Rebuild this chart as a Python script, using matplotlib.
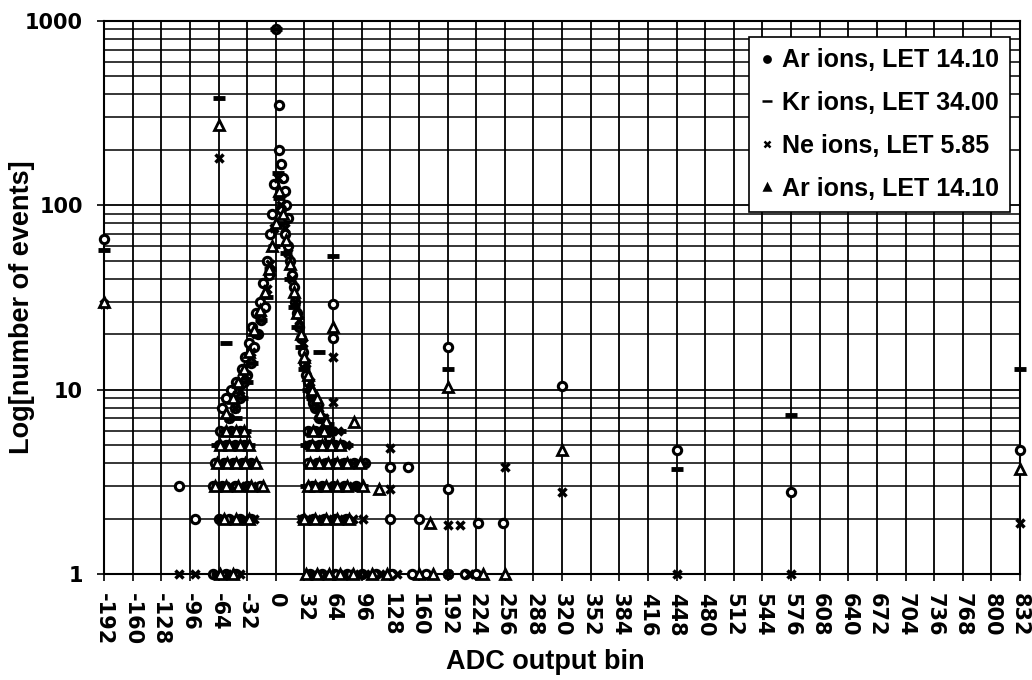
import matplotlib
matplotlib.use("Agg")
import matplotlib.pyplot as plt
from matplotlib.ticker import FixedLocator, NullFormatter

plt.rcParams['font.family'] = ['Liberation Sans', 'DejaVu Sans']
plt.rcParams['font.weight'] = 'bold'

# ---------------- data ----------------
x_ticks = list(range(-192, 833, 32))
y_ticks = [1, 10, 100, 1000]
legend_labels = ["Ar ions, LET 14.10", "Kr ions, LET 34.00",
                 "Ne ions, LET 5.85", "Ar ions, LET 14.10"]

# Series 1: Ar ions (circles)
ar1_x = [-60, -56, -52, -50, -46, -44, -40, -38, -36, -34, -32, -30, -28, -26, -24, -22,
         -20, -18, -16, -14, -12, -10, -8, -6, -4, -2,
         0, 4, 4, 6, 8, 10, 12, 14,
         6, 10, 14, 16, 18, 20, 22, 24, 26, 28, 30, 32, 34, 36, 38, 40, 42, 44, 48, 52, 56, 60,
         -62, -50, -40, 36, 44, 52, 60,
         -64, -56, -46, -36, 38, 48, 58, 66, 74,
         -68, -58, -48, -38, -28, 36, 46, 56, 66, 76, 88, 100,
         -70, -60, -46, -32, -18, 40, 52, 64, 76, 90,
         -64, -52, -40, -28, 30, 42, 54, 66, 78,
         -70, -56, -44, 38, 52, 66, 80, 96, 112, 130,
         -108, -90, 128, 148, 192, 128, 160, 226, 254, 152, 168, 192, 212, 224,
         -192, 64, 64, 192, 320, 448, 576, 832]
ar1_y = [8, 9, 7, 10, 8, 11, 9, 13, 11, 15, 12, 18, 14, 22, 17, 26,
         20, 30, 24, 38, 28, 50, 42, 70, 90, 130,
         900, 350, 200, 168, 140, 120, 100, 85,
         95, 70, 60, 50, 42, 36, 30, 26, 22, 19, 16, 14, 12, 11, 10, 9, 8.5, 8, 7, 7, 6, 5.5,
         6, 6, 6, 6, 6, 6, 6,
         5, 5, 5, 5, 5, 5, 5, 5, 5,
         4, 4, 4, 4, 4, 4, 4, 4, 4, 4, 4, 4,
         3, 3, 3, 3, 3, 3, 3, 3, 3, 3,
         2, 2, 2, 2, 2, 2, 2, 2, 2,
         1, 1, 1, 1, 1, 1, 1, 1, 1, 1,
         3, 2, 3.8, 3.8, 2.9, 2, 2, 1.9, 1.9, 1, 1, 1, 1, 1,
         66, 29, 19, 17, 10.5, 4.7, 2.8, 4.7]

# Series 2: Kr ions (dashes)
kr_x = [-44, -38, -32, -26, -22, -16, -10, -6, -2, 0, 2, 4, 8, 12, 16, 20, 24, 28, 32, 36,
        40, 46, 52, 58,
        -58, -46, -34, 40, 48, 56, 64, 72,
        -66, -52, -42, -30, 34, 44, 54, 64, 80,
        -62, -50, -34, -24, 42, 52, 62, 72, 84, 96,
        -66, -54, -38, -26, 34, 46, 58, 70, 84, 96,
        -60, -46, -34, 34, 46, 58, 70,
        -66, -50, 42, 58, 74, 90, 104, 120,
        -192, -64, -56, 48, 64, 192, 448, 576, 832]
kr_y = [7, 9, 11, 14, 20, 24, 32, 45, 60, 900, 150, 110, 80, 55, 40, 28, 22, 17, 13, 10,
        9, 8, 7, 6.5,
        6, 6, 6, 6, 6, 6, 6, 6,
        5, 5, 5, 5, 5, 5, 5, 5, 5,
        4, 4, 4, 4, 4, 4, 4, 4, 4, 4,
        3, 3, 3, 3, 3, 3, 3, 3, 3, 3,
        2, 2, 2, 2, 2, 2, 2,
        1, 1, 1, 1, 1, 1, 1, 1,
        57, 380, 18, 16, 53, 13, 3.7, 7.3, 13]

# Series 3: Ne ions (crosses)
ne_x = [-52, -46, -40, -34, -28, -22, -16, -10, -6, -2, 2, 6, 10, 14, 18, 22, 26, 30, 34,
        38, 42, 48, 54,
        -54, -42, 38, 50, 62, 70,
        -60, -48, -38, 36, 46, 56, 68, 78,
        -64, -52, -42, -32, 40, 50, 60, 70, 80, 92,
        -62, -50, -40, -26, 38, 48, 60, 72, 86, 128,
        -62, -48, -36, -24, 28, 40, 52, 64, 76, 86, 97, 192, 206,
        -108, -90, -66, -54, -40, 36, 48, 62, 76, 88, 100, 116, 136, 192, 216, 448, 576,
        -192, -64, 64, 64, 128, 256, 320, 832]
ne_y = [7, 8, 10, 12, 16, 20, 26, 35, 48, 75, 140, 100, 75, 55, 40, 30, 24, 18, 14,
        11, 9, 8, 7,
        6, 6, 6, 6, 6, 6,
        5, 5, 5, 5, 5, 5, 5, 5,
        4, 4, 4, 4, 4, 4, 4, 4, 4, 4,
        3, 3, 3, 3, 3, 3, 3, 3, 3, 2.9,
        2, 2, 2, 2, 2, 2, 2, 2, 2, 2, 2, 1.85, 1.85,
        1, 1, 1, 1, 1, 1, 1, 1, 1, 1, 1, 1, 1, 1, 1, 1, 1,
        29, 180, 15, 8.6, 4.8, 3.8, 2.8, 1.9]

# Series 4: Ar ions (triangles)
ar2_x = [-56, -48, -42, -36, -30, -24, -18, -12, -8, -4, 0, 4, 8, 12, 16, 20, 24, 28, 32,
         36, 40, 46, 50, 56,
         -56, -44, -36, 42, 54,
         -62, -52, -40, -30, 40, 52, 62, 72,
         -66, -54, -44, -34, -22, 38, 48, 58, 68, 80, 94,
         -68, -56, -42, -28, -14, 36, 44, 56, 68, 80, 98, 115,
         -58, -44, -30, 32, 44, 56, 68, 82, 172,
         -62, -48, 34, 46, 60, 72, 86, 108, 124, 160, 176, 232, 256,
         -192, -64, 64, 88, 192, 320, 832]
ar2_y = [7.5, 9, 11, 13, 16, 21, 27, 34, 45, 60, 80, 120, 90, 65, 48, 34, 26, 20, 15,
         12, 10, 9, 7.5, 6.8,
         6, 6, 6, 6, 6,
         5, 5, 5, 5, 5, 5, 5, 5,
         4, 4, 4, 4, 4, 4, 4, 4, 4, 4, 4,
         3, 3, 3, 3, 3, 3, 3, 3, 3, 3, 3, 2.9,
         2, 2, 2, 2, 2, 2, 2, 2, 1.9,
         1, 1, 1, 1, 1, 1, 1, 1, 1, 1, 1, 1, 1,
         30, 273, 22, 6.7, 10.4, 4.7, 3.7]

# ---------------- plot ----------------
fig = plt.figure(figsize=(10.32, 6.8), dpi=100)
ax = fig.add_axes([104/1032, 1 - 574/680, (1020-104)/1032, (574-21)/680])

ax.set_yscale('log')
ax.set_xlim(-192, 832)
ax.set_ylim(1, 1000)

st = dict(linestyle='none', color='black', zorder=3, clip_on=False)
h1, = ax.plot(ar1_x, ar1_y, marker='o', ms=6, mfc='white', mec='black', mew=2.2, **st)
h2, = ax.plot(kr_x, kr_y, marker='_', ms=8, mew=3.5, **st)
h3, = ax.plot(ne_x, ne_y, marker='x', ms=6, mew=2.5, **st)
h4, = ax.plot(ar2_x, ar2_y, marker='^', ms=6.5, mfc='white', mec='black', mew=2.0, **st)

tick_font = {'family': 'DejaVu Sans', 'weight': 'bold', 'size': 15}
ax.xaxis.set_major_locator(FixedLocator(x_ticks))
ax.set_xticklabels([str(v) for v in x_ticks], rotation=-90, fontdict=tick_font)
ax.yaxis.set_major_locator(FixedLocator(y_ticks))
ax.set_yticklabels([str(v) for v in y_ticks], fontdict=tick_font)
minor = [m * 10**e for e in range(0, 3) for m in range(2, 10)]
ax.yaxis.set_minor_locator(FixedLocator(minor))
ax.yaxis.set_minor_formatter(NullFormatter())

ax.grid(True, which='major', axis='both', color='black', linewidth=1.3)
ax.grid(True, which='minor', axis='y', color='black', linewidth=1.1)
ax.tick_params(axis='y', which='major', direction='out', length=5, width=1.2, pad=10)
ax.tick_params(axis='y', which='minor', length=0)
ax.tick_params(axis='x', which='major', direction='out', length=5, width=1.2, pad=9)
for s in ax.spines.values():
    s.set_linewidth(1.5)
    s.set_color('black')

fig.text(545/1032, 1 - 662/680, "ADC output bin", ha='center', va='center',
         fontsize=19.5, fontweight='bold', family='Liberation Sans')
fig.text(22/1032, 1 - 307/680, "Log[number of events]", ha='center', va='center',
         rotation=90, fontsize=19.5, fontweight='bold', family='Liberation Sans')

leg = ax.legend([h1, h2, h3, h4], legend_labels, loc='upper right',
                bbox_to_anchor=(0.989, 0.971),
                prop={'family': 'Liberation Sans', 'weight': 'bold', 'size': 18},
                frameon=True, fancybox=False, edgecolor='black', framealpha=1,
                handlelength=0.5, handletextpad=0.35,
                labelspacing=0.75, borderpad=0.45, borderaxespad=0)
leg.get_frame().set_linewidth(1.2)
handle_sizes = [4.5, 7, 5, 5]
for lh, ms in zip(leg.legend_handles, handle_sizes):
    lh.set_markersize(ms)
    lh.set_markeredgewidth(1.8)
    lh.set_markerfacecolor('black')

fig.savefig("out.png", dpi=100)
